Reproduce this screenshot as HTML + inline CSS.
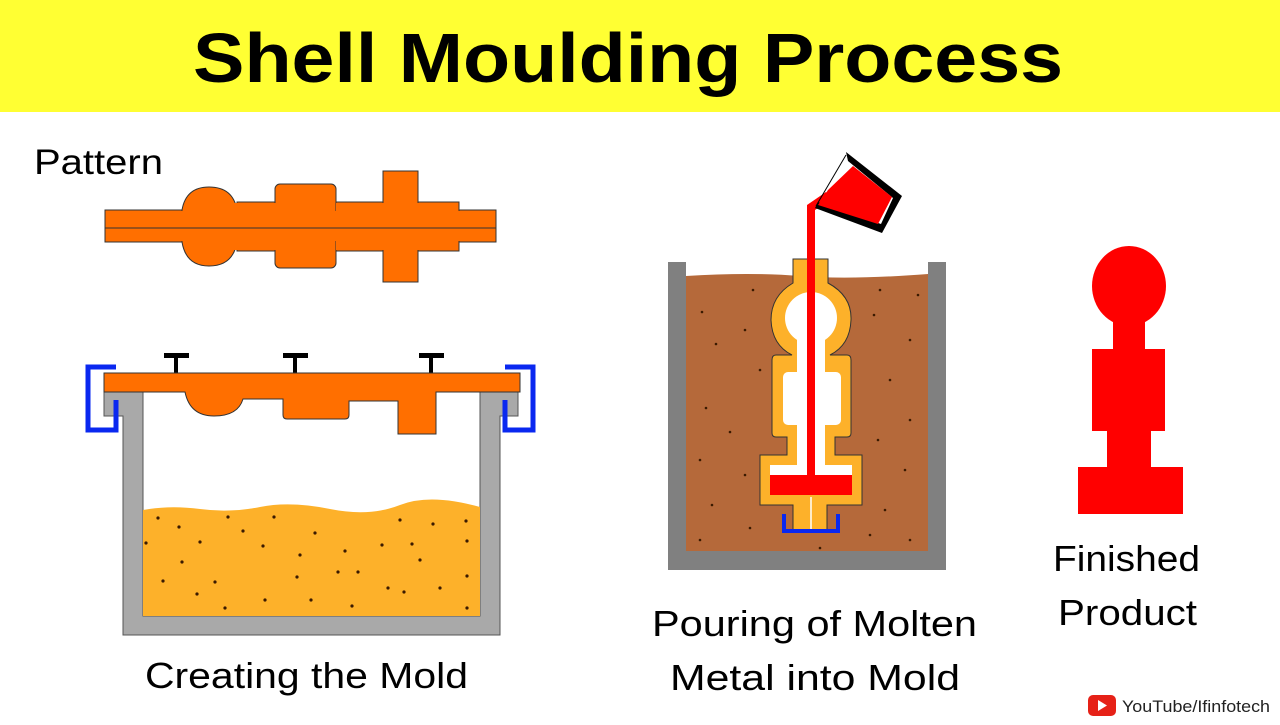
<!DOCTYPE html>
<html><head><meta charset="utf-8"><style>
body{margin:0;width:1280px;height:720px;background:#fff;overflow:hidden;font-family:"Liberation Sans",sans-serif}
</style></head><body>
<svg width="1280" height="720" viewBox="0 0 1280 720" xmlns="http://www.w3.org/2000/svg" font-family="Liberation Sans, sans-serif">
<rect x="0" y="0" width="1280" height="112" fill="#FFFF33"/>
<text x="193" y="82" font-size="70" font-weight="bold" fill="#000" textLength="870" lengthAdjust="spacingAndGlyphs">Shell Moulding Process</text>

<!-- Pattern -->
<text x="34" y="174" font-size="35" fill="#000" textLength="129" lengthAdjust="spacingAndGlyphs">Pattern</text>
<g fill="#FF6F00" stroke="#333" stroke-width="1">
<rect x="105" y="210" width="391" height="32"/>
<path d="M182,210 Q186,187 209,187 Q233,187 237,210 V242 Q233,266 209,266 Q186,266 182,242 Z"/>
<rect x="237" y="202" width="46" height="49"/>
<rect x="275" y="184" width="61" height="84" rx="5"/>
<rect x="336" y="202" width="123" height="49"/>
<rect x="383" y="171" width="35" height="111"/>
</g>
<g fill="#FF6F00">
<rect x="106" y="211" width="389" height="30"/>
<rect x="230" y="203" width="53" height="47"/>
<rect x="336" y="203" width="122" height="47"/>
<rect x="384" y="172" width="33" height="109"/>
</g>
<line x1="105" y1="228" x2="496" y2="228" stroke="#333" stroke-width="1"/>

<!-- Creating the mold -->
<path d="M104,392 H143 V616 H480 V392 H518 V416 H500 V635 H123 V416 H104 Z" fill="#A9A9A9" stroke="#555" stroke-width="1"/>
<path d="M143,510 Q170,505 200,509 T260,507 T330,509 T400,505 T480,507 V616 H143 Z" fill="#FDB12A"/>
<g fill="#3a1a00">
<circle cx="158" cy="518" r="1.6"/><circle cx="179" cy="527" r="1.6"/><circle cx="200" cy="542" r="1.6"/><circle cx="228" cy="517" r="1.6"/><circle cx="243" cy="531" r="1.6"/><circle cx="263" cy="546" r="1.6"/><circle cx="274" cy="517" r="1.6"/><circle cx="300" cy="555" r="1.6"/><circle cx="315" cy="533" r="1.6"/><circle cx="345" cy="551" r="1.6"/><circle cx="358" cy="572" r="1.6"/><circle cx="382" cy="545" r="1.6"/><circle cx="400" cy="520" r="1.6"/><circle cx="412" cy="544" r="1.6"/><circle cx="420" cy="560" r="1.6"/><circle cx="433" cy="524" r="1.6"/><circle cx="440" cy="588" r="1.6"/><circle cx="466" cy="521" r="1.6"/><circle cx="467" cy="541" r="1.6"/><circle cx="467" cy="576" r="1.6"/><circle cx="467" cy="608" r="1.6"/><circle cx="182" cy="562" r="1.6"/><circle cx="163" cy="581" r="1.6"/><circle cx="197" cy="594" r="1.6"/><circle cx="215" cy="582" r="1.6"/><circle cx="225" cy="608" r="1.6"/><circle cx="265" cy="600" r="1.6"/><circle cx="311" cy="600" r="1.6"/><circle cx="297" cy="577" r="1.6"/><circle cx="338" cy="572" r="1.6"/><circle cx="352" cy="606" r="1.6"/><circle cx="388" cy="588" r="1.6"/><circle cx="404" cy="592" r="1.6"/><circle cx="146" cy="543" r="1.6"/>
</g>
<g fill="#000"><rect x="164" y="353" width="25" height="5"/><rect x="174" y="356" width="4" height="18"/>
<rect x="283" y="353" width="25" height="5"/><rect x="293" y="356" width="4" height="18"/>
<rect x="419" y="353" width="25" height="5"/><rect x="429" y="356" width="4" height="18"/></g>
<path d="M116,367 H88 V430 H116 V400" fill="none" stroke="#0A28F0" stroke-width="5"/>
<path d="M505,367 H533 V430 H505 V400" fill="none" stroke="#0A28F0" stroke-width="5"/>
<g fill="#FF6F00" stroke="#333" stroke-width="1">
<path d="M104,373 H520 V392 H436 V434 H398 V401 H349 V415 Q349,419 345,419 H287 Q283,419 283,415 V399 H243 Q238,416 214,416 Q190,416 185,392 H104 Z"/>
</g>
<text x="145" y="688" font-size="36" fill="#000" textLength="323" lengthAdjust="spacingAndGlyphs">Creating the Mold</text>

<!-- Pouring -->
<rect x="668" y="262" width="278" height="308" fill="#808080"/>
<rect x="686" y="262" width="242" height="289" fill="#fff"/>
<path d="M686,276 Q750,272 800,276 T928,274 V551 H686 Z" fill="#B5693A"/>
<g fill="#3a1a00">
<circle cx="702" cy="312" r="1.3"/><circle cx="753" cy="290" r="1.3"/><circle cx="716" cy="344" r="1.3"/><circle cx="745" cy="330" r="1.3"/><circle cx="760" cy="370" r="1.3"/><circle cx="706" cy="408" r="1.3"/><circle cx="730" cy="432" r="1.3"/><circle cx="700" cy="460" r="1.3"/><circle cx="745" cy="475" r="1.3"/><circle cx="712" cy="505" r="1.3"/><circle cx="700" cy="540" r="1.3"/><circle cx="750" cy="528" r="1.3"/><circle cx="880" cy="290" r="1.3"/><circle cx="918" cy="295" r="1.3"/><circle cx="874" cy="315" r="1.3"/><circle cx="910" cy="340" r="1.3"/><circle cx="890" cy="380" r="1.3"/><circle cx="910" cy="420" r="1.3"/><circle cx="878" cy="440" r="1.3"/><circle cx="905" cy="470" r="1.3"/><circle cx="885" cy="510" r="1.3"/><circle cx="910" cy="540" r="1.3"/><circle cx="870" cy="535" r="1.3"/><circle cx="820" cy="548" r="1.3"/>
</g>
<g fill="#FDB12A" stroke="#333" stroke-width="1">
<path d="M793,259 H828 V283 Q852,296 851,320 Q850,345 830,355 H847 Q851,355 851,360 V433 Q851,437 847,437 H835 V455 H862 V505 H827 V530 H793 V505 H760 V455 H787 V437 H776 Q772,437 772,433 V360 Q772,355 776,355 H792 Q772,345 771,320 Q771,296 793,283 Z"/>
</g>
<g fill="#fff">
<circle cx="811" cy="318" r="26"/>
<rect x="797" y="330" width="28" height="45"/>
<rect x="783" y="372" width="58" height="53" rx="5"/>
<rect x="797" y="420" width="28" height="50"/>
<rect x="770" y="465" width="82" height="12"/>
</g>
<rect x="770" y="475" width="82" height="20" fill="#FF0000"/>
<line x1="811" y1="497" x2="811" y2="530" stroke="#fff" stroke-width="1.5"/>
<path d="M784,514 V531 H838 V514" fill="none" stroke="#0A28F0" stroke-width="4"/>
<path d="M807,205 L826,192 L831,199 L815,210 V478 H807 Z" fill="#FF0000"/>
<polygon points="846,152 902,196 882,233 815,208 818,202 881,224 893,198 848,161" fill="#000"/>
<polygon points="853,166 892,197 878,224 818,205 828,190" fill="#FF0000"/>
<line x1="846" y1="155" x2="816" y2="206" stroke="#000" stroke-width="1"/>
<text x="652" y="636" font-size="36" fill="#000" textLength="325" lengthAdjust="spacingAndGlyphs">Pouring of Molten</text>
<text x="670" y="690" font-size="36" fill="#000" textLength="290" lengthAdjust="spacingAndGlyphs">Metal into Mold</text>

<!-- Finished product -->
<g fill="#FF0000">
<ellipse cx="1129" cy="286" rx="37" ry="40"/>
<rect x="1113" y="310" width="32" height="42"/>
<rect x="1092" y="349" width="73" height="82"/>
<rect x="1107" y="430" width="44" height="38"/>
<rect x="1078" y="467" width="105" height="47"/>
</g>
<text x="1053" y="571" font-size="36" fill="#000" textLength="147" lengthAdjust="spacingAndGlyphs">Finished</text>
<text x="1058" y="625" font-size="36" fill="#000" textLength="139" lengthAdjust="spacingAndGlyphs">Product</text>
<rect x="1088" y="695" width="28" height="21" rx="5" fill="#E62117"/>
<polygon points="1098,700 1098,711 1107,705.5" fill="#fff"/>
<text x="1122" y="712" font-size="17" fill="#222" textLength="148" lengthAdjust="spacingAndGlyphs">YouTube/Ifinfotech</text>
</svg>
</body></html>
